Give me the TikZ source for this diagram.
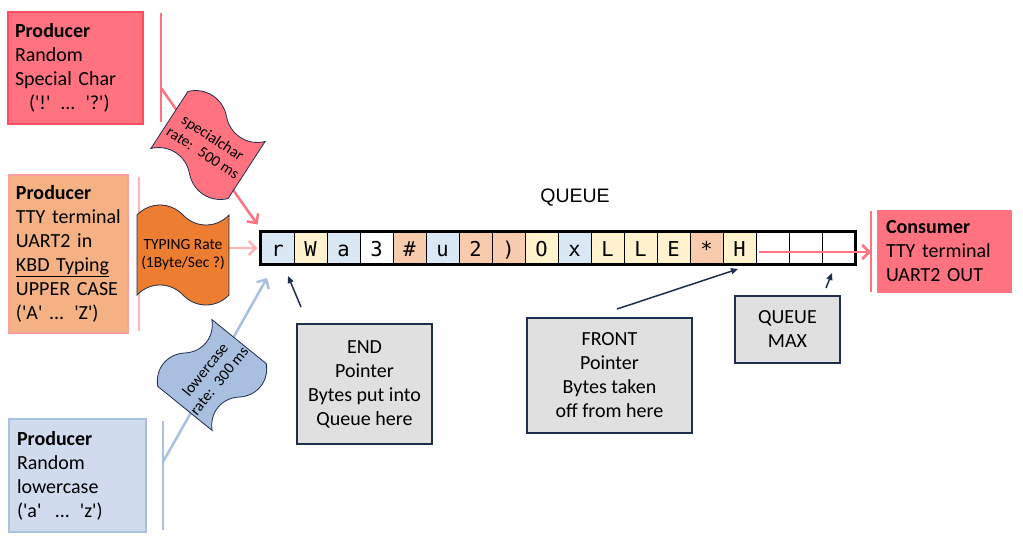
\documentclass[tikz,border=0pt]{standalone}
\usepackage{fontspec}
\newfontfamily\boxfont{Carlito}
\newfontfamily\cellfont{DejaVu Sans Mono}
\newfontfamily\headfont{Liberation Sans}
\usetikzlibrary{arrows.meta,shapes.symbols}

\definecolor{specialred}{HTML}{FF7380}
\definecolor{specialborder}{HTML}{FF4D5E}
\definecolor{typingfill}{HTML}{F4B183}
\definecolor{typingborder}{HTML}{FF9E9E}
\definecolor{typingline}{HTML}{FFB3B3}
\definecolor{typingtape}{HTML}{ED7D31}
\definecolor{lowerfill}{HTML}{D0DCEE}
\definecolor{lowerborder}{HTML}{A9C0E1}
\definecolor{lowertape}{HTML}{A9BFE0}
\definecolor{navy}{HTML}{1F2D4E}
\definecolor{pointergray}{HTML}{E0E0E0}
\definecolor{cellblue}{HTML}{DAE8F6}
\definecolor{cellyellow}{HTML}{FFF2CC}
\definecolor{cellorange}{HTML}{F8CBAD}

\begin{document}
\begin{tikzpicture}[
	x=1pt,
	y=-1pt,
	producer/.style={
		draw,
		line width=2pt,
		align=left,
		inner xsep=7pt,
		font=\boxfont\fontsize{20}{24}\selectfont
	},
	ratetape/.style={
		tape,
		draw=navy,
		line width=0.8pt,
		align=center,
		tape bend top=out and in,
		tape bend bottom=out and in,
		tape bend height=20pt,
		inner sep=0pt,
		font=\boxfont\fontsize{15.5}{18}\selectfont
	},
	cell/.style={
		draw,
		line width=1pt,
		minimum width=33pt,
		minimum height=32pt,
		inner sep=0pt,
		text height=17pt,
		text depth=0pt,
		font=\cellfont\fontsize{20.5}{20.5}\selectfont
	},
	pointer/.style={
		draw=navy,
		fill=pointergray,
		line width=2pt,
		align=center,
		inner sep=0pt,
		font=\boxfont\fontsize{20}{24}\selectfont
	},
	feed/.style={
		line width=2.5pt,
		-{Straight Barb[length=7pt,width=14pt]}
	},
	ptr/.style={
		draw=navy,
		line width=1.5pt,
		-{Triangle[length=7pt,width=6pt]}
	}
]
	\useasboundingbox (0,0) rectangle (1023,539);
	% Producer lines
	\draw[
		line width=2.5pt,
		color=specialred
	] (161,13) -- (161,122);
	\draw[
		line width=2.5pt,
		color=typingline
	] (139,177) -- (139,331);
	\draw[
		line width=2.5pt,
		color=lowerborder
	] (163,421) -- (163,530);
	\draw[
		line width=2.5pt,
		color=specialred
	] (871,211) -- (871,292);
	\coordinate (specialtap) at (161,88);
	\coordinate (typingtap) at (139,248);
	\coordinate (lowertap) at (163,462);
	\coordinate (consumertap) at (871,252);
	% Queue
	\node[cell, fill=cellblue] (c1) at (277.5,248) {r};
	\node[cell, fill=cellyellow] (c2) at (310.5,248) {W};
	\node[cell, fill=cellblue] (c3) at (343.5,248) {a};
	\node[cell, fill=white] (c4) at (376.5,248) {3};
	\node[cell, fill=cellorange] (c5) at (409.5,248) {\#};
	\node[cell, fill=cellblue] (c6) at (442.5,248) {u};
	\node[cell, fill=cellorange] (c7) at (475.5,248) {2};
	\node[cell, fill=cellorange] (c8) at (508.5,248) {)};
	\node[cell, fill=cellyellow] (c9) at (541.5,248) {O};
	\node[cell, fill=cellblue] (c10) at (574.5,248) {x};
	\node[cell, fill=cellyellow] (c11) at (607.5,248) {L};
	\node[cell, fill=cellyellow] (c12) at (640.5,248) {L};
	\node[cell, fill=cellyellow] (c13) at (673.5,248) {E};
	\node[cell, fill=cellorange] (c14) at (706.5,248) {*};
	\node[cell, fill=cellyellow] (c15) at (739.5,248) {H};
	\node[cell, fill=white] (c16) at (772.5,248) {};
	\node[cell, fill=white] (c17) at (805.5,248) {};
	\node[cell, fill=white] (c18) at (838.5,248) {};
	\draw[
		line width=2.5pt
	] (c1.north west) rectangle (c18.south east);
	\node[
		font=\headfont\fontsize{19.5}{20}\selectfont
	] (queuetitle) at (575,198) {QUEUE};
	% Feed arrows
	\coordinate (lowertip) at (267,278);
	\coordinate (consumerstart) at (759,252);
	\draw[
		feed,
		color=specialred
	] (specialtap) -- ([shift={(-3,-7)}]c1.north west);
	\draw[
		feed,
		color=typingline,
		shorten >=3pt
	] (typingtap) -- (c1.west);
	\draw[
		feed,
		color=lowerborder
	] (lowertap) -- (lowertip);
	\draw[
		feed,
		color=specialred
	] (consumerstart) -- (consumertap);
	% Rate tapes
	\node[
		ratetape,
		fill=specialred,
		minimum width=92pt,
		minimum height=88pt,
		rotate=-33
	] (specialrate) at (208,145) {specialchar\\rate:~ 500 ms};
	\node[
		ratetape,
		fill=typingtape,
		minimum width=92pt,
		minimum height=100pt
	] (typingrate) at (183,255) {TYPING Rate\\(1Byte/Sec ?)};
	\node[
		ratetape,
		fill=lowertape,
		minimum width=86pt,
		minimum height=90pt,
		rotate=51
	] (lowerrate) at (212,375) {lowercase\\rate:~ 300 ms};
	% Producers
	\node[
		producer,
		draw=specialborder,
		fill=specialred,
		text width=121pt,
		minimum height=112pt
	] (special) at (75.5,68) {\textbf{Producer}\\Random\\Special Char\\\hspace*{14pt}('!' ... '?')};
	\node[
		producer,
		draw=typingborder,
		fill=typingfill,
		text width=105pt,
		minimum height=158pt
	] (typing) at (68.5,254) {\textbf{Producer}\\TTY terminal\\UART2 in\\\underline{KBD Typing}\\UPPER CASE\\('A' ... 'Z')};
	\node[
		producer,
		draw=lowerborder,
		fill=lowerfill,
		text width=121pt,
		inner xsep=8pt,
		minimum height=113pt
	] (lower) at (77.5,475.5) {\textbf{Producer}\\Random\\lowercase\\('a'~ ... 'z')};
	% Consumer
	\node[
		producer,
		draw=specialred,
		fill=specialred,
		text width=117pt,
		inner xsep=8pt,
		minimum height=81pt
	] (consumer) at (944.5,251.5) {\textbf{Consumer}\\TTY terminal\\UART2 OUT};
	% Pointer boxes
	\node[
		pointer,
		minimum width=135pt,
		minimum height=120pt
	] (endbox) at (364.5,384) {END\\Pointer\\Bytes put into\\Queue here};
	\node[
		pointer,
		minimum width=165pt,
		minimum height=115pt
	] (frontbox) at (609.5,375.5) {FRONT\\Pointer\\Bytes taken\\off from here};
	\node[
		pointer,
		minimum width=105pt,
		minimum height=67pt
	] (maxbox) at (787.5,329.5) {QUEUE\\MAX};
	% Pointer arrows
	\coordinate (endtail) at (301,307);
	\coordinate (endtip) at (288,276);
	\coordinate (fronttail) at (617,309);
	\coordinate (fronttip) at (738,269);
	\coordinate (maxtail) at (826,288);
	\coordinate (maxtip) at (832,273);
	\draw[ptr] (endtail) -- (endtip);
	\draw[ptr] (fronttail) -- (fronttip);
	\draw[ptr] (maxtail) -- (maxtip);
\end{tikzpicture}
\end{document}
